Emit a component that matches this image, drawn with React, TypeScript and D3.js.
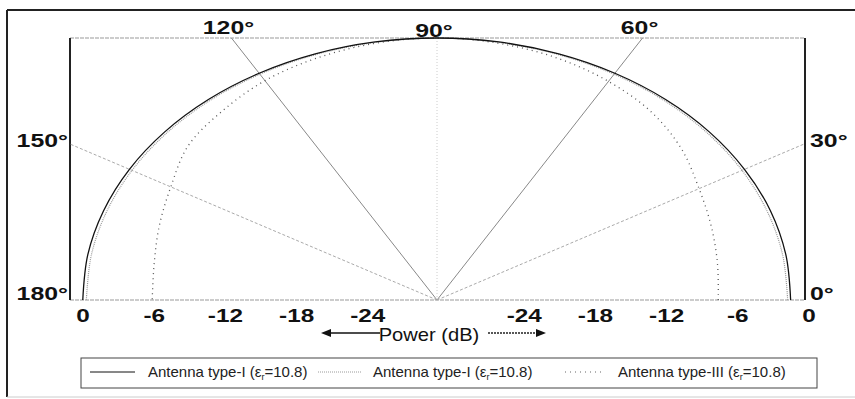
import React from 'react'
import * as d3 from 'd3'

// pattern samples, every 10 deg from 0 to 180, in dB
const angles = [0, 10, 20, 30, 40, 50, 60, 70, 80, 90, 100, 110, 120, 130, 140, 150, 160, 170, 180]
const typeI = [-0.2, -0.15, -0.1, -0.08, -0.05, -0.03, -0.02, -0.01, 0, 0, 0, -0.01, -0.02, -0.03, -0.05, -0.07, -0.1, -0.12, -0.15]
const typeIDotted = [-0.45, -0.42, -0.38, -0.32, -0.26, -0.2, -0.15, -0.1, -0.05, 0, -0.05, -0.1, -0.15, -0.2, -0.26, -0.32, -0.38, -0.42, -0.45]
const typeIII = [-6.3, -6.0, -5.4, -4.5, -3.1, -1.9, -1.1, -0.5, -0.15, 0, -0.15, -0.5, -1.0, -1.8, -2.6, -4.1, -5.1, -5.8, -6.0]

const tickValues = [0, -6, -12, -18, -24]
const spokeAngles = [30, 60, 90, 120, 150]
const angleLabels = [0, 30, 60, 90, 120, 150, 180]
const legendNames = ['Antenna type-I', 'Antenna type-I', 'Antenna type-III']

const font = 'Liberation Sans, Arial, Helvetica, sans-serif'

export default function App() {
  const width = 855
  const height = 399
  const cx = 437, cy = 300
  const rx = 356, ry = 262
  const boxL = 70, boxR = 805, boxT = 38

  const r = d3.scaleLinear().domain([-30, 0]).range([0, 1]).clamp(true)
  const rad = d3.scaleLinear().domain([0, 180]).range([0, Math.PI])

  const pt = (deg: number, db: number): [number, number] => {
    const a = rad(deg)
    return [cx + rx * r(db) * Math.cos(a), cy - ry * r(db) * Math.sin(a)]
  }
  const line = d3.line<[number, number]>().curve(d3.curveCatmullRom)
  const path = (vals: number[]) => line(angles.map((a, i) => pt(a, vals[i]))) || ''

  // where a spoke meets the box
  const spokeEnd = (deg: number): [number, number] => {
    const a = rad(deg)
    const dx = rx * Math.cos(a), dy = ry * Math.sin(a)
    let t = Infinity
    if (dx > 1e-6) t = Math.min(t, (boxR - cx) / dx)
    if (dx < -1e-6) t = Math.min(t, (cx - boxL) / -dx)
    if (dy > 1e-6) t = Math.min(t, (cy - boxT) / dy)
    return [cx + dx * t, cy - dy * t]
  }

  const labelPos = (deg: number) => {
    if (deg === 0) return { x: boxR + 5, y: cy, anchor: 'start' }
    if (deg === 180) return { x: boxL - 2, y: cy, anchor: 'end' }
    const [x, y] = spokeEnd(deg)
    if (deg === 30) return { x: boxR + 5, y: y + 3, anchor: 'start' }
    if (deg === 150) return { x: boxL - 2, y: y + 3, anchor: 'end' }
    return { x: x - 3, y: deg === 90 ? boxT - 1 : boxT - 4, anchor: 'middle' }
  }

  const legendX = d3.scaleOrdinal<string, number>().domain(['0', '1', '2']).range([90, 318, 565])
  const legendLen = [45, 44, 36]
  const legendText = [148, 373, 618]
  const legendStyle = [
    { stroke: '#111', dash: 'none', w: 1 },
    { stroke: '#9a9a9a', dash: '1,1', w: 1 },
    { stroke: '#666', dash: '1,4', w: 1.2 },
  ]

  return (
    <svg width={width} height={height} style={{ position: 'absolute', left: 0, top: 0, background: '#fff' }}>
      {/* outer frame */}
      <line x1={7} y1={10} x2={855} y2={10} stroke="#222" strokeWidth={2} />
      <line x1={7} y1={10} x2={7} y2={397} stroke="#222" strokeWidth={2} />
      <line x1={7} y1={397} x2={855} y2={397} stroke="#ccc" strokeWidth={1} />

      {/* box */}
      <line x1={boxL} y1={boxT} x2={boxR} y2={boxT} stroke="#999" strokeWidth={1.2} strokeDasharray="4,1" />
      <line x1={boxL} y1={cy} x2={boxR} y2={cy} stroke="#999" strokeWidth={1.2} strokeDasharray="4,1" />
      <line x1={boxL} y1={boxT} x2={boxL} y2={cy} stroke="#222" strokeWidth={2} />
      <line x1={boxR} y1={boxT} x2={boxR} y2={cy} stroke="#222" strokeWidth={2} />

      {/* spokes */}
      {spokeAngles.map(a => {
        const [x, y] = spokeEnd(a)
        const strong = a === 60 || a === 120
        return <line key={a} x1={cx} y1={cy} x2={x} y2={y}
          stroke={a === 90 ? '#ccc' : strong ? '#888' : '#aaa'}
          strokeWidth={1}
          strokeDasharray={a === 90 ? '1,2' : strong ? 'none' : '3,2'} />
      })}

      {/* curves */}
      <path d={path(typeIII)} fill="none" stroke="#555" strokeWidth={1.3} strokeDasharray="1,4" />
      <path d={path(typeIDotted)} fill="none" stroke="#9a9a9a" strokeWidth={1.2} strokeDasharray="1,1" />
      <path d={path(typeI)} fill="none" stroke="#111" strokeWidth={1.3} />

      {/* angle labels */}
      {angleLabels.map(a => {
        const p = labelPos(a)
        return <g key={a} transform={`translate(${p.x},${p.y}) scale(1.38,1)`}>
          <text textAnchor={p.anchor as any} fontFamily={font} fontWeight="bold" fontSize={18} fill="#111">{a}°</text>
        </g>
      })}

      {/* radial tick labels */}
      {tickValues.map(v => (
        <g key={'l' + v} transform={`translate(${cx - rx * r(v) + 2},322) scale(1.35,1)`}>
          <text textAnchor="middle" fontFamily={font} fontWeight="bold" fontSize={18} fill="#111">{v}</text>
        </g>
      ))}
      {tickValues.map(v => (
        <g key={'r' + v} transform={`translate(${cx + rx * r(v) + 16},322) scale(1.35,1)`}>
          <text textAnchor="middle" fontFamily={font} fontWeight="bold" fontSize={18} fill="#111">{v}</text>
        </g>
      ))}

      {/* axis title with arrows */}
      <g transform={`translate(${cx - 8},341) scale(1.15,1)`}>
        <text textAnchor="middle" fontFamily={font} fontSize={17.5} fill="#111">Power (dB)</text>
      </g>
      <line x1={380} y1={333} x2={328} y2={333} stroke="#111" strokeWidth={1.5} />
      <path d="M321,333 L331,329 L331,337 Z" fill="#111" />
      <line x1={488} y1={333} x2={538} y2={333} stroke="#222" strokeWidth={1.5} strokeDasharray="2,1" />
      <path d="M546,333 L536,329 L536,337 Z" fill="#111" />

      {/* legend */}
      <rect x={81} y={358} width={736} height={30} fill="#fff" stroke="#444" strokeWidth={1} />
      {legendNames.map((n, i) => (
        <g key={i}>
          <line x1={legendX(String(i))} x2={legendX(String(i)) + legendLen[i]} y1={372} y2={372}
            stroke={legendStyle[i].stroke} strokeWidth={legendStyle[i].w} strokeDasharray={legendStyle[i].dash} />
          <text x={legendText[i]} y={377} fontFamily={font} fontSize={15} fill="#222">
            {n} (ε<tspan fontSize={9} dy={3}>r</tspan><tspan dy={-3}>=10.8)</tspan>
          </text>
        </g>
      ))}
    </svg>
  )
}
